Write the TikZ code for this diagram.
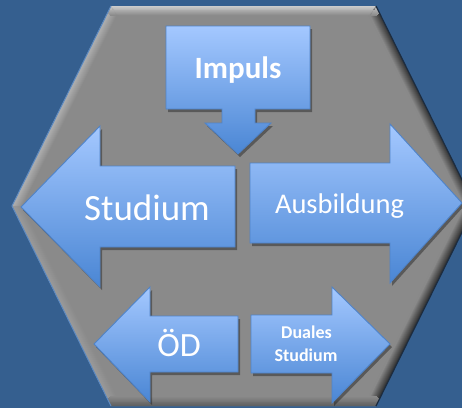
\documentclass[tikz,border=0pt]{standalone}
\usepackage{fontspec}
\setmainfont{Carlito}
\usetikzlibrary{shadows}
\definecolor{bgblue}{HTML}{355F8F}
\definecolor{hexfill}{HTML}{8A8A8A}
\definecolor{hexTop}{HTML}{D2D2D2}
\definecolor{hexUL}{HTML}{B4B4B4}
\definecolor{hexLL}{HTML}{9C9C9C}
\definecolor{hexUR}{HTML}{303030}
\definecolor{hexLR}{HTML}{2A2A2A}
\definecolor{hexBot}{HTML}{5E5E5E}
\definecolor{hexEdgeL}{HTML}{5C89C0}
\definecolor{hexEdgeR}{HTML}{1C2C40}
\definecolor{arrtop}{HTML}{A4C8FF}
\definecolor{arrbot}{HTML}{4A86D4}
\definecolor{arrline}{HTML}{4F83C8}
\begin{document}
\begin{tikzpicture}[x=1pt,y=-1pt,
  arrowshape/.style={draw=arrline, line width=0.9pt, line join=miter,
    top color=arrtop, bottom color=arrbot,
    drop shadow={shadow xshift=2pt, shadow yshift=-3pt, opacity=0.35, fill=black}},
  lbl/.style={text=white, inner sep=0pt, anchor=base}]
\fill[bgblue] (0,0) rectangle (462,408);
\useasboundingbox (0,0) rectangle (462,408);
% hexagon with bevel
\begin{scope}
  \clip (111,6) -- (376,6) -- (475,206) -- (376,406) -- (111,406) -- (12,206) -- cycle;
  \fill[hexfill] (0,0) rectangle (480,408);
  \foreach \k in {0,...,11}{
    \pgfmathsetmacro\s{1-\k/230}
    \pgfmathtruncatemacro\p{\k*9}
    \begin{scope}[shift={(243.5,206)}, scale=\s]
      \draw[line width=1.6pt, color=hexfill!\p!hexTop] (-140,-200) -- (140,-200);
      \draw[line width=1.6pt, color=hexfill!\p!hexUL] (-231.5,0) -- (-132.5,-200);
      \draw[line width=1.6pt, color=hexfill!\p!hexLL] (-231.5,0) -- (-132.5,200);
      \draw[line width=1.6pt, color=hexfill!\p!hexUR] (231.5,0) -- (132.5,-200);
      \draw[line width=1.6pt, color=hexfill!\p!hexLR] (231.5,0) -- (132.5,200);
      \draw[line width=1.6pt, color=hexfill!\p!hexBot] (-140,200) -- (140,200);
    \end{scope}
  }
\end{scope}
\draw[line width=1pt, hexEdgeL] (111,6) -- (12,206) -- (111,406);
\draw[line width=1.2pt, hexEdgeR] (376,6) -- (475,206) -- (376,406);
% arrows
\path[arrowshape] (166,26) -- (310,26) -- (310,109) -- (255,109) -- (255,123) -- (271,123)
  -- (238,154) -- (205,123) -- (222,123) -- (222,109) -- (166,109) -- cycle;
\path[arrowshape] (21,207) -- (100,126) -- (100,166) -- (235,166) -- (235,247) -- (100,247)
  -- (100,287) -- cycle;
\path[arrowshape] (462,203) -- (390,124) -- (390,163) -- (250,163) -- (250,243) -- (390,243)
  -- (390,283) -- cycle;
\path[arrowshape] (94,344) -- (150,287) -- (150,316) -- (238,316) -- (238,372) -- (150,372)
  -- (150,402) -- cycle;
\path[arrowshape] (390,344) -- (332,287) -- (332,315) -- (251,315) -- (251,373) -- (332,373)
  -- (332,403) -- cycle;
% labels
\node[lbl, font=\bfseries\fontsize{31}{31}\selectfont] (impuls) at (238,78) {Impuls};
\node[lbl, font=\fontsize{37}{37}\selectfont] (studium) at (147,220) {Studium};
\node[lbl, font=\fontsize{28.5}{28.5}\selectfont] (ausb) at (339.5,213) {Ausbildung};
\node[lbl, font=\fontsize{34}{34}\selectfont] (od) at (179,356) {ÖD};
\node[lbl, font=\bfseries\fontsize{18}{18}\selectfont] (duales) at (306.5,338) {Duales};
\node[lbl, font=\bfseries\fontsize{18}{18}\selectfont] (dstud) at (306,361) {Studium};
\end{tikzpicture}
\end{document}
